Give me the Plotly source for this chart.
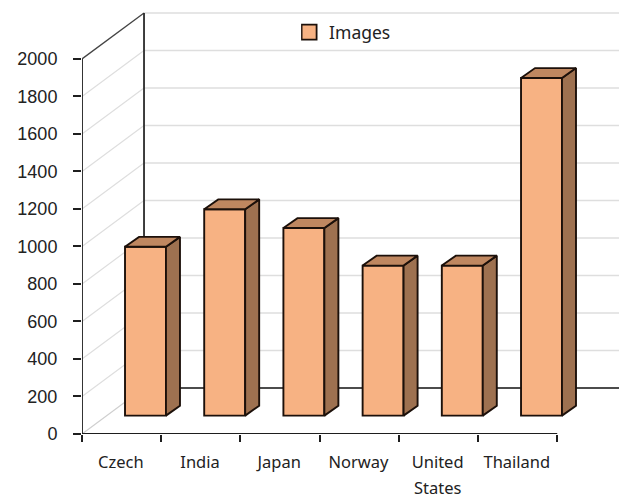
import plotly.graph_objects as go

# Chart data
categories = ["Czech", "India", "Japan", "Norway", "United", "Thailand"]
images = [900, 1100, 1000, 800, 800, 1800]
y_ticks = [0, 200, 400, 600, 800, 1000, 1200, 1400, 1600, 1800, 2000]

# Fake-3D geometry, in axis units
WALL_DX = 0.783      # how far the back wall shifts to the right
WALL_DY = 245        # how far the back wall rises
BAR_LEFT = 0.543     # left edge of a front face inside its category slot
BAR_W = 0.517        # width of a front face
BAR_BASE = 98        # floor level under the front faces
BAR_DX = 0.177       # bar depth, horizontal
BAR_DY = 53          # bar depth, vertical
X_MAX = 6.78
Y_MAX = 2250

FRONT = "#F7B283"
TOP = "#BF8760"
SIDE = "#9E7150"
EDGE = "#1C100A"
GRID = "#DEDEDE"
AXIS = "#1E1E1E"
TEXT = "#222222"
FONT = "Liberation Sans"
CAT_FONT = "Noto Sans"
EDGE_W = 1.9

n = len(categories)
fig = go.Figure()

# Front faces of the bars
fig.add_bar(
    x=[i + BAR_LEFT + BAR_W / 2 for i in range(n)],
    y=images,
    base=BAR_BASE,
    width=BAR_W,
    name="Images",
    showlegend=False,
    marker=dict(color=FRONT, line=dict(color=EDGE, width=EDGE_W)),
)

# Side and top faces, projected from the same values
for i, v in enumerate(images):
    x0 = i + BAR_LEFT
    x1 = x0 + BAR_W
    bottom = BAR_BASE
    top = BAR_BASE + v
    fig.add_scatter(
        x=[x1, x1 + BAR_DX, x1 + BAR_DX, x1, x1],
        y=[bottom, bottom + BAR_DY, top + BAR_DY, top, bottom],
        mode="lines", fill="toself", fillcolor=SIDE,
        line=dict(color=EDGE, width=EDGE_W), showlegend=False, hoverinfo="skip",
    )
    fig.add_scatter(
        x=[x0, x0 + BAR_DX, x1 + BAR_DX, x1, x0],
        y=[top, top + BAR_DY, top + BAR_DY, top, top],
        mode="lines", fill="toself", fillcolor=TOP,
        line=dict(color=EDGE, width=EDGE_W), showlegend=False, hoverinfo="skip",
    )

# Square legend key for the series
fig.add_scatter(
    x=[None], y=[None], mode="markers", name="Images",
    marker=dict(symbol="square", size=15, color=FRONT, line=dict(color=EDGE, width=1.8)),
)

# Gridlines on the side wall and the back wall, underneath the bars
shapes = []
def seg(x0, y0, x1, y1, color, width):
    shapes.append(dict(type="line", xref="x", yref="y", x0=x0, y0=y0, x1=x1, y1=y1,
                       layer="below", line=dict(color=color, width=width)))

for v in y_ticks:
    if v == 0:
        seg(0, v, WALL_DX, v + WALL_DY, "#CFCFCF", 1.2)
        seg(WALL_DX, v + WALL_DY, X_MAX, v + WALL_DY, "#111111", 1.5)
    elif v == y_ticks[-1]:
        seg(0, v, WALL_DX, v + WALL_DY, "#444444", 1.3)
        seg(WALL_DX, v + WALL_DY, X_MAX, v + WALL_DY, GRID, 1.5)
    else:
        seg(0, v, WALL_DX, v + WALL_DY, GRID, 1.2)
        seg(WALL_DX, v + WALL_DY, X_MAX, v + WALL_DY, GRID, 1.5)

# Axis lines and the back corner
seg(WALL_DX, WALL_DY, WALL_DX, y_ticks[-1] + WALL_DY, "#2A2A2A", 1.8)
seg(0, 0, 0, y_ticks[-1], AXIS, 1.8)
seg(0, 0, n, 0, AXIS, 1.8)

fig.update_layout(
    width=619, height=495,
    margin=dict(l=82, r=0, t=12, b=61),
    paper_bgcolor="white", plot_bgcolor="white",
    shapes=shapes,
    showlegend=True,
    legend=dict(x=0.408, y=0.9945, xanchor="left", yanchor="top",
                indentation=-12,
                font=dict(family=CAT_FONT, size=17.5, color=TEXT),
                bgcolor="rgba(0,0,0,0)", itemclick=False),
    xaxis=dict(
        range=[0, X_MAX], showgrid=False, zeroline=False, showline=False,
        tickmode="array",
        tickvals=[i + 0.49 for i in range(n)], ticktext=categories,
        ticks="", ticklabelstandoff=16,
        tickfont=dict(family=CAT_FONT, size=16.5, color=TEXT),
        minor=dict(tickmode="array", tickvals=list(range(n + 1)), ticks="outside",
                   ticklen=7, tickwidth=1.7, tickcolor=AXIS, showgrid=False),
    ),
    yaxis=dict(
        range=[0, Y_MAX], showgrid=False, zeroline=False, showline=False,
        tickmode="array", tickvals=y_ticks,
        ticks="outside", ticklen=8, tickwidth=1.7, tickcolor=AXIS,
        ticklabelstandoff=12,
        tickfont=dict(family=FONT, size=18, color=TEXT),
    ),
    annotations=[dict(x=4.49, y=-0.127, xref="x", yref="paper", text="States",
                      showarrow=False, yanchor="middle",
                      font=dict(family=CAT_FONT, size=16.5, color=TEXT))],
)

fig.write_html("out.html")
